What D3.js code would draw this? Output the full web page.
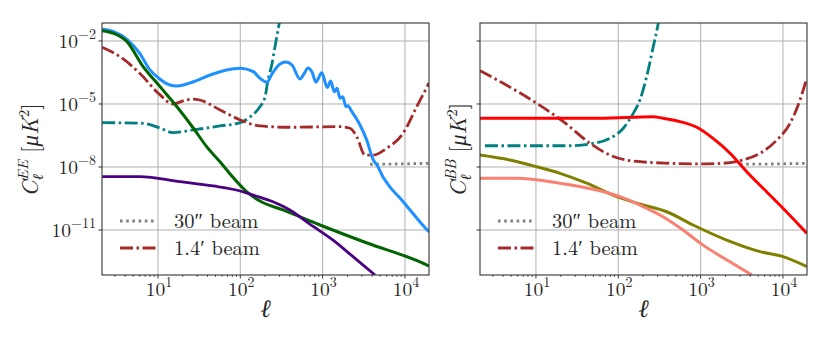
<!DOCTYPE html>
<html>
<head>
<script src="https://d3js.org/d3.v7.min.js"></script>
<style>
  body { margin: 0; background: #fff; }
</style>
</head>
<body>
<svg id="chart" width="830" height="346"></svg>
<script>
// ---- data: [ell, C_ell] ----
const eeLensed = [[2.1,3.6e-2],[2.9,2.8e-2],[4.2,1.2e-2],[6,2.6e-3],[8,4.2e-4],[10.6,1.5e-4],[14,8e-5],[17,7.2e-5],
  [27,1.15e-4],[43,2.4e-4],[68,4.2e-4],[100,5e-4],[144,3.45e-4],[173,1.7e-4],[211,1.1e-4],[243,2.7e-4],[303,8e-4],
  [359,1e-3],[425,7.2e-4],[531,1.55e-4],[594,2.7e-4],[665,5.2e-4],[743,3.3e-4],[831,1.1e-4],[975,3.1e-4],
  [1140,6.2e-5],[1254,1.25e-4],[1387,3.85e-5],[1496,5.6e-5],[1626,1.9e-5],[1754,2.2e-5],[1924,7.4e-6],[2018,8.3e-6],
  [2277,4.2e-6],[2546,2.15e-6],[2846,1e-6],[3434,1.9e-7],[4131,2.15e-8],[4580,1.25e-8],[5420,3.3e-9],[6590,1.1e-9],
  [8710,3.3e-10],[11530,9e-11],[15250,2.4e-11],[19630,8e-12]];
const eeGreen = [[2.1,3.1e-2],[2.9,2.3e-2],[4.2,9.3e-3],[6.6,6e-4],[10.6,6.7e-5],[17,7.4e-6],[27,7e-7],[39,9.3e-8],
  [57,1.73e-8],[81,3.3e-9],[120,6.5e-10],[173,2.4e-10],[330,9e-11],[930,1.73e-11],[3460,2.4e-12],[15250,3e-13],[19630,1.9e-13]];
const eePurple = [[2.1,3.45e-9],[6,3.45e-9],[18.5,2e-9],[46.6,1.25e-9],[100,7.2e-10],[143,4.6e-10],[250,2.2e-10],
  [400,9e-11],[700,1.9e-11],[1340,3.3e-12],[2340,5.4e-13],[4330,7.2e-14]];
const eeTeal = [[2.1,1.3e-6],[6.6,1.2e-6],[10.6,7.2e-7],[15.2,4.3e-7],[26.6,5.8e-7],[57,9e-7],[100,1.3e-6],[131,2.4e-6],
  [173,7.4e-6],[200,2.2e-5],[217,1.4e-4],[241,7.2e-4],[264,5.4e-3],[295,5.8e-2],[321,0.3]];
const eeBeam14 = [[2.1,5e-3],[3.45,1.8e-3],[6,2.9e-4],[10.6,2.7e-5],[15.2,1e-5],[21.9,1.55e-5],[27,1.7e-5],[32,1.55e-5],
  [57,5.2e-6],[100,1.73e-6],[173,9e-7],[400,7.8e-7],[1626,8.3e-7],[2153,7e-7],[2595,2.8e-7],[3273,3.7e-8],[4096,3.7e-8],
  [6010,7.8e-8],[9480,4e-7],[13900,7.4e-6],[19630,1e-4]];
const eeBeam30 = [[3770,1.35e-8],[8700,1.4e-8],[19630,1.5e-8]];

const bbRed = [[2.09,2.1e-6],[60,2.1e-6],[264,2.5e-6],[349,2.1e-6],[562,1.45e-6],[898,7.8e-7],[1416,2.3e-7],[2277,4.5e-8],
  [3630,6e-9],[5730,9.7e-10],[10020,1.08e-10],[19450,7e-12]];
const bbSalmon = [[2.09,2.9e-9],[5.8,2.9e-9],[19.6,1.7e-9],[54.7,8e-10],[105,3.85e-10],[200,1.3e-10],[349,4.3e-11],
  [611,1e-11],[1070,1.9e-12],[2093,3.7e-13],[4180,7.2e-14]];
const bbOlive = [[2.09,3.7e-8],[4.8,2.15e-8],[10.2,1.03e-8],[19.6,5e-9],[41.3,1.7e-9],[95.7,3.85e-10],[201,1.55e-10],
  [387,7.4e-11],[809,1.73e-11],[2075,3.3e-12],[5270,9.3e-13],[10000,5.4e-13],[19600,1.8e-13]];
const bbTeal = [[2.4,1.03e-7],[25.9,1.03e-7],[45.3,1.25e-7],[79,2.3e-7],[115,7e-7],[152,3.6e-6],[183,1.55e-5],
  [221,2e-4],[266,5.4e-3],[306,7e-2],[330,0.4]];
const bbBeam14 = [[2.09,3.85e-4],[4,9.7e-5],[10.2,1.08e-5],[21.5,1.45e-6],[45.3,1.35e-7],[79,3.7e-8],[139,2e-8],
  [425,1.5e-8],[985,1.4e-8],[1870,1.5e-8],[3270,2.15e-8],[5270,4.5e-8],[8410,1.9e-7],[12200,1.2e-6],[16100,1.55e-5],[19450,1.7e-4]];
const bbBeam30 = [[3010,1.35e-8],[8000,1.4e-8],[19600,1.5e-8]];

const xTicks = [10, 100, 1000, 10000];
const yTicks = [1e-2, 1e-5, 1e-8, 1e-11];
const legendLabels = ['30\u2033 beam', '1.4\u2032 beam'];

// ---- layout ----
const FONT = 'Latin Modern Roman';
const svg = d3.select('#chart');
const plotTop = 23, plotBottom = 275;
const ellDomain = [2.09, 19600];
const y = d3.scaleLog().domain([Math.pow(10, -13.143), Math.pow(10, -1.143)]).range([plotBottom, plotTop]);

const styles = {
  solid: '',
  dashdot: '13,3.5,2.5,3.5',
  dotted: '2.6,3.6'
};

function addText(g) {
  return g.append('text').attr('font-family', FONT).attr('fill', '#262626');
}

function supLabel(sel, base, exp) {
  sel.append('tspan').text(base);
  sel.append('tspan').attr('dy', -9).style('font-size', '14px').text(exp);
}

function drawPanel(left, right, curves, spectrum, showYLabels, labelX) {
  const x = d3.scaleLog().domain(ellDomain).range([left, right]);
  const g = svg.append('g');
  const clipId = 'clip' + left;
  svg.append('clipPath').attr('id', clipId).append('rect')
    .attr('x', left).attr('y', plotTop).attr('width', right - left).attr('height', plotBottom - plotTop);

  // grid
  g.selectAll('.vg').data(xTicks).join('line')
    .attr('x1', d => x(d)).attr('x2', d => x(d)).attr('y1', plotTop).attr('y2', plotBottom)
    .attr('stroke', '#b0b0b0').attr('stroke-width', 1);
  g.selectAll('.hg').data(yTicks).join('line')
    .attr('x1', left).attr('x2', right).attr('y1', d => y(d)).attr('y2', d => y(d))
    .attr('stroke', '#b0b0b0').attr('stroke-width', 1);

  // curves
  const line = d3.line().x(d => x(d[0])).y(d => y(d[1])).curve(d3.curveMonotoneX);
  const cg = g.append('g').attr('clip-path', `url(#${clipId})`);
  curves.forEach(c => {
    cg.append('path').attr('d', line(c.data))
      .attr('fill', 'none').attr('stroke', c.color).attr('stroke-width', c.width || 2.8)
      .attr('stroke-dasharray', styles[c.style] || null)
      .attr('stroke-linejoin', 'round');
  });

  // frame
  g.append('rect').attr('x', left).attr('y', plotTop).attr('width', right - left).attr('height', plotBottom - plotTop)
    .attr('fill', 'none').attr('stroke', '#333').attr('stroke-width', 1.1);

  // x ticks
  const minor = [];
  for (let k = 0; k <= 4; k++) for (let m = 2; m <= 9; m++) {
    const v = m * Math.pow(10, k);
    if (v >= ellDomain[0] && v <= ellDomain[1]) minor.push(v);
  }
  g.selectAll('.mt').data(minor).join('line')
    .attr('x1', d => x(d)).attr('x2', d => x(d)).attr('y1', plotBottom).attr('y2', plotBottom + 2)
    .attr('stroke', '#333').attr('stroke-width', 0.8);
  g.selectAll('.xt').data(xTicks).join('line')
    .attr('x1', d => x(d)).attr('x2', d => x(d)).attr('y1', plotBottom).attr('y2', plotBottom + 3.5)
    .attr('stroke', '#333').attr('stroke-width', 1);
  xTicks.forEach(d => {
    const t = addText(g).attr('x', x(d) + 1).attr('y', 296).attr('text-anchor', 'middle').style('font-size', '19.5px');
    supLabel(t, '10', String(Math.round(Math.log10(d))));
  });

  // y ticks
  g.selectAll('.yt').data(yTicks).join('line')
    .attr('x1', left - 3.5).attr('x2', left).attr('y1', d => y(d)).attr('y2', d => y(d))
    .attr('stroke', '#333').attr('stroke-width', 1);
  if (showYLabels) {
    yTicks.forEach(d => {
      const t = addText(g).attr('x', left - 6).attr('y', y(d) + 7.5).attr('text-anchor', 'end').style('font-size', '19.5px');
      supLabel(t, '10', '\u2212' + String(Math.round(-Math.log10(d))));
    });
  }

  // x label
  addText(g).attr('x', (left + right) / 2).attr('y', 317).attr('text-anchor', 'middle')
    .style('font-size', '25px').attr('font-style', 'italic').text('\u2113');

  // y label: C_l^{XX} [muK^2]
  const yl = addText(g).attr('transform', `translate(${labelX},150) rotate(-90)`).style('font-size', '23px');
  yl.append('tspan').attr('font-style', 'italic').text('C');
  const sp = yl.append('tspan').attr('dy', -10).style('font-size', '15px').attr('font-style', 'italic').text(spectrum);
  const spW = sp.node().getComputedTextLength();
  const sb = yl.append('tspan').attr('dx', -spW).attr('dy', 15).style('font-size', '15px').attr('font-style', 'italic').text('\u2113');
  const sbW = sb.node().getComputedTextLength();
  yl.append('tspan').attr('dx', spW - sbW + 7).attr('dy', -5).text('[');
  yl.append('tspan').attr('font-style', 'italic').text('\u03bcK');
  yl.append('tspan').attr('dy', -9).style('font-size', '15px').text('2');
  yl.append('tspan').attr('dy', 9).text(']');
  const bb = yl.node().getBBox();
  yl.attr('transform', `translate(${labelX},${150 + bb.width / 2}) rotate(-90)`);

  // legend
  const lx = left + 18;
  const legendRows = [{ label: legendLabels[0], color: 'gray', style: 'dotted', y: 221 },
                      { label: legendLabels[1], color: 'brown', style: 'dashdot', y: 248 }];
  legendRows.forEach(r => {
    g.append('line').attr('x1', lx).attr('x2', lx + 37).attr('y1', r.y).attr('y2', r.y)
      .attr('stroke', r.color).attr('stroke-width', 2.8).attr('stroke-dasharray', styles[r.style]);
    addText(g).attr('x', lx + 54).attr('y', r.y + 6.5).style('font-size', '20.5px').text(r.label);
  });
}

drawPanel(102, 429, [
  { data: eeTeal, color: 'teal', style: 'dashdot' },
  { data: eeBeam14, color: 'brown', style: 'dashdot' },
  { data: eeBeam30, color: 'gray', style: 'dotted' },
  { data: eeLensed, color: 'dodgerblue', style: 'solid', width: 3 },
  { data: eeGreen, color: 'darkgreen', style: 'solid', width: 3 },
  { data: eePurple, color: 'indigo', style: 'solid', width: 2.8 }
], 'EE', true, 38);

drawPanel(480, 807, [
  { data: bbTeal, color: 'teal', style: 'dashdot' },
  { data: bbBeam14, color: 'brown', style: 'dashdot' },
  { data: bbBeam30, color: 'gray', style: 'dotted' },
  { data: bbRed, color: 'red', style: 'solid', width: 3 },
  { data: bbOlive, color: 'olive', style: 'solid', width: 3 },
  { data: bbSalmon, color: 'salmon', style: 'solid', width: 3 }
], 'BB', false, 466);
</script>
</body>
</html>
